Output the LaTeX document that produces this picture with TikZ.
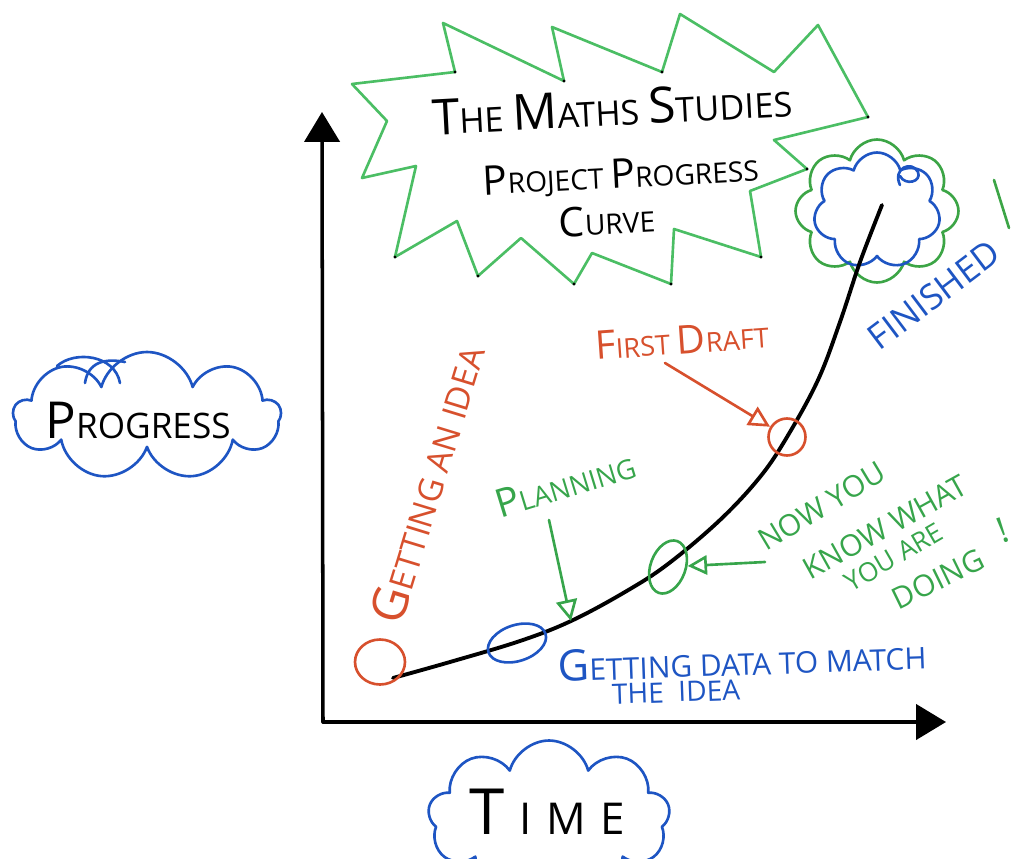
\documentclass[tikz,border=0pt]{standalone}
\usepackage{fontspec}
\setmainfont{Open Sans}
\usetikzlibrary{shapes.geometric,shapes.symbols,arrows.meta}
\definecolor{penblue}{RGB}{30,85,195}
\definecolor{penred}{RGB}{215,80,45}
\definecolor{pengreen}{RGB}{55,165,75}
\definecolor{burstgreen}{RGB}{75,190,100}
\definecolor{cloudgreen}{RGB}{60,165,70}
\newcommand\BL[1]{\scalebox{1.45}{#1}}
\newcommand\penfont[1]{\fontsize{#1}{#1}\selectfont}

\begin{document}
\begin{tikzpicture}[x=0.02cm,y=-0.02cm,line cap=round,line join=round,
  pen/.style={line width=1.5pt},
  handtext/.style={inner sep=0pt},
  marker/.style={ellipse,draw,pen,inner sep=0pt},
  puff/.style={cloud,draw,pen,cloud ignores aspect,inner sep=0pt},
  openhead/.style={-{Triangle[open,length=#1,width=#1]}},
  axis/.style={line width=2pt,-{Triangle[length=17pt,width=20pt]}}]

\useasboundingbox (0,0) rectangle (1019,859);
\clip (0,0) rectangle (1019,859);

% title starburst
\draw[burstgreen,pen] (352,84) -- (455,72) -- (443,23) -- (564,81) -- (552,27)
  -- (662,72) -- (680,14) -- (774,72) -- (818,25) -- (868,117) -- (774,140)
  -- (807,169) -- (750,191) -- (761,257) -- (674,229) -- (671,284) -- (592,253)
  -- (574,284) -- (521,238) -- (478,276) -- (457,221) -- (395,257) -- (416,166)
  -- (362,178) -- (387,121) -- cycle;
\foreach \p in {(455,72),(564,81),(662,72),(868,117),(807,169),(761,257),(671,284),(574,284),(478,276),(395,257)}
  \fill \p circle (1.6);

\node[handtext,rotate=3,font=\penfont{19.5}] (title1) at (612,108) {\BL{T}HE \BL{M}ATHS \BL{S}TUDIES};
\node[handtext,rotate=3,font=\penfont{16}] (title2) at (621,176) {\BL{P}ROJECT \BL{P}ROGRESS};
\node[handtext,rotate=3,font=\penfont{16}] (title3) at (607,220) {\BL{C}URVE};

% axes
\coordinate (origin) at (323,722);
\coordinate (ytip) at (322,112);
\coordinate (xtip) at (946,722);
\draw[axis] (origin) -- (ytip);
\draw[axis] (origin) -- (xtip);

% axis labels
\node[puff,penblue,cloud puffs=9,minimum width=5.34cm,minimum height=2.56cm] (progcloud) at (147,416) {};
\draw[penblue,pen] (57,366) .. controls (75,350) and (115,355) .. (120,383);
\draw[penblue,pen] (85,383) .. controls (88,362) and (105,358) .. (125,362);
\node[handtext,font=\penfont{20}] (progtext) at (138,420) {\BL{P}ROGRESS};

\node[puff,penblue,cloud puffs=9,minimum width=4.84cm,minimum height=3.1cm] (timecloud) at (549,818) {};
\node[handtext,font=\penfont{25}] (timetext) at (547,812) {\BL{T}\,\,I\,\,M\,\,E};

% goal cloud
\node[puff,cloudgreen,cloud puffs=8,minimum width=3.26cm,minimum height=2.86cm] (goalouter) at (877,211) {};
\node[puff,penblue,cloud puffs=7,minimum width=2.54cm,minimum height=2.34cm] (goalinner) at (877,211) {};
\draw[penblue,pen] (900,185) .. controls (892,168) and (912,160) .. (918,172) .. controls (922,182) and (905,186) .. (900,176);

% progress curve
\coordinate (cstart) at (393,678);
\coordinate (cplan) at (571,621);
\coordinate (cend) at (882,205);
\draw[line width=2.2pt] plot[smooth,tension=0.6] coordinates {(cstart) (450,662) (520,641) (cplan) (625,592) (668,564) (720,520) (760,477) (787,437) (818,380) (840,322) (860,262) (cend)};

% stage markers
\node[marker,penred,minimum width=1.0cm,minimum height=0.9cm] (idea) at (380,662) {};
\node[marker,penblue,minimum width=1.2cm,minimum height=0.72cm,rotate=18] (data) at (517,643) {};
\node[marker,pengreen,minimum width=0.7cm,minimum height=1.1cm,rotate=-20] (know) at (668,567) {};
\node[marker,penred,minimum width=0.74cm,minimum height=0.74cm] (draft) at (787,437) {};

% stage labels
\node[handtext,rotate=73,text=penred,font=\penfont{19}] (ideatext) at (427,484) {\BL{G}ETTING AN IDEA};
\node[handtext,rotate=17,text=pengreen,font=\penfont{15.5}] (plantext) at (565,484) {\BL{P}LANNING};
\node[handtext,rotate=4,text=penred,font=\penfont{15.5}] (drafttext) at (682,340) {\BL{F}IRST \BL{D}RAFT};
\node[handtext,rotate=37,text=penblue,font=\penfont{20}] (donetext) at (934,295) {FINISHED};
\node[handtext,rotate=2,text=penblue,font=\penfont{17}] (datatext1) at (742,660) {\BL{G}ETTING DATA TO MATCH};
\node[handtext,rotate=2,text=penblue,font=\penfont{16}] (datatext2) at (676,692) {THE\ \ IDEA};
\node[handtext,rotate=31,text=pengreen,font=\penfont{17}] (know1) at (822,506) {NOW YOU};
\node[handtext,rotate=29,text=pengreen,font=\penfont{17}] (know2) at (885,527) {KNOW WHAT};
\node[handtext,rotate=30,text=pengreen,font=\penfont{15}] (know3) at (894,557) {YOU ARE};
\node[handtext,rotate=26,text=pengreen,font=\penfont{17}] (know4) at (938,579) {DOING};
\node[handtext,rotate=20,text=pengreen,font=\penfont{20}] (know5) at (1003,530) {!};

% pointers
\coordinate (drafttail) at (665,363);
\coordinate (plantail) at (549,520);
\coordinate (knowtail) at (765,562);
\draw[penred,pen,openhead=12pt] (drafttail) -- (draft);
\draw[pengreen,pen,openhead=12pt] (plantail) -- (cplan);
\draw[pengreen,pen,openhead=11pt] (knowtail) -- (know);

% exclamation stroke beside the goal cloud
\coordinate (bangtop) at (994,180);
\coordinate (bangbot) at (1009,228);
\draw[cloudgreen,pen] (bangtop) -- (bangbot);
\end{tikzpicture}
\end{document}
